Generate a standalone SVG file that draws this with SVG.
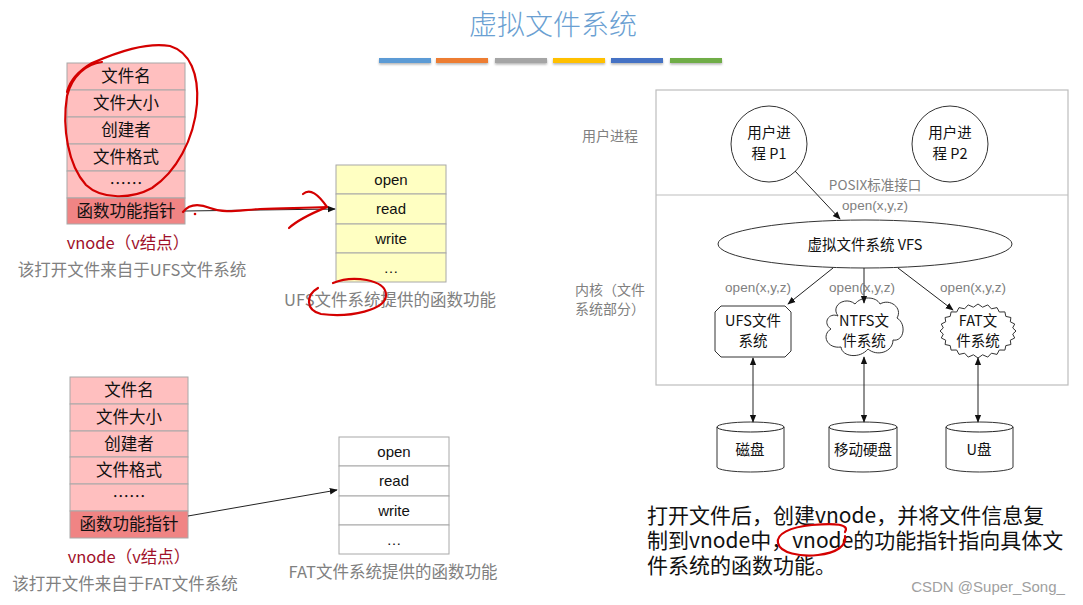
<svg xmlns="http://www.w3.org/2000/svg" width="1083" height="605" viewBox="0 0 1083 605">
<style>
.cjk{font-family:'Noto Sans CJK SC','Noto Sans',sans-serif}
.lat{font-family:'Liberation Sans',Arial,sans-serif}
.cell{fill:#ffbfbf;stroke:#a8a8a8;stroke-width:1}
.cellk{fill:#f08484;stroke:#a8a8a8;stroke-width:1}
.ycell{fill:#ffffc2;stroke:#a8a8a8;stroke-width:1}
.wcell{fill:#ffffff;stroke:#a8a8a8;stroke-width:1}
.tt{font-size:16.5px;fill:#111;text-anchor:middle}
.ft{font-size:15px;fill:#111;text-anchor:middle}
.cap{font-size:16.5px;fill:#808080;text-anchor:middle}
.vn{font-size:16.5px;fill:#a0102a;text-anchor:middle}
.gl{font-size:14px;fill:#808080}
.gm{font-size:13.5px;fill:#808080;text-anchor:middle}
.nt{font-size:14.5px;fill:#111;text-anchor:middle}
.shape{fill:#fff;stroke:#333;stroke-width:1}
.ln{stroke:#222;stroke-width:1;fill:none}
.red{stroke:#d40000;stroke-width:2.2;fill:none;stroke-linecap:round;stroke-linejoin:round}
</style>
<defs>
<marker id="ah" viewBox="0 0 10 10" refX="9" refY="5" markerWidth="8" markerHeight="8" orient="auto-start-reverse" markerUnits="userSpaceOnUse">
<path d="M0,1 L10,5 L0,9 Z" fill="#111"/>
</marker>
<filter id="sh" x="-10%" y="-50%" width="120%" height="250%">
<feDropShadow dx="0" dy="1.5" stdDeviation="1" flood-color="#000" flood-opacity="0.3"/>
</filter>
</defs>
<rect width="1083" height="605" fill="#fff"/>

<g id="title">
<text x="553" y="35" class="cjk" font-size="28" font-weight="300" fill="#6a9fd2" text-anchor="middle">虚拟文件系统</text>
<g filter="url(#sh)">
<rect x="379" y="58" width="52" height="5" fill="#5b9bd5"/>
<rect x="436" y="58" width="52" height="5" fill="#ed7d31"/>
<rect x="495" y="58" width="52" height="5" fill="#a5a5a5"/>
<rect x="553" y="58" width="52" height="5" fill="#ffc000"/>
<rect x="611" y="58" width="52" height="5" fill="#4472c4"/>
<rect x="670" y="58" width="52" height="5" fill="#70ad47"/>
</g>
</g>

<g id="vnode-ufs" class="cjk">
<rect class="cell" x="67" y="63" width="118" height="27"/>
<rect class="cell" x="67" y="90" width="118" height="27"/>
<rect class="cell" x="67" y="117" width="118" height="27"/>
<rect class="cell" x="67" y="144" width="118" height="27"/>
<rect class="cell" x="67" y="171" width="118" height="27"/>
<rect class="cellk" x="67" y="198" width="118" height="26"/>
<text class="tt" x="126" y="82">文件名</text>
<text class="tt" x="126" y="109">文件大小</text>
<text class="tt" x="126" y="136">创建者</text>
<text class="tt" x="126" y="163">文件格式</text>
<text class="tt" x="126" y="190">……</text>
<text class="tt" x="126" y="217">函数功能指针</text>
<text class="vn" x="128" y="249">vnode（v结点）</text>
<text class="cap" x="132" y="276">该打开文件来自于UFS文件系统</text>
</g>

<g id="funcs-ufs" class="lat">
<rect class="ycell" x="336" y="165" width="110" height="29"/>
<rect class="ycell" x="336" y="194" width="110" height="30"/>
<rect class="ycell" x="336" y="224" width="110" height="29"/>
<rect class="ycell" x="336" y="253" width="110" height="29"/>
<text class="ft" x="391" y="185">open</text>
<text class="ft" x="391" y="214">read</text>
<text class="ft" x="391" y="244">write</text>
<text class="ft" x="391" y="273">…</text>
<text class="cap cjk" x="390" y="306">UFS文件系统提供的函数功能</text>
</g>

<g id="vnode-fat" class="cjk">
<rect class="cell" x="70" y="377" width="118" height="27"/>
<rect class="cell" x="70" y="404" width="118" height="27"/>
<rect class="cell" x="70" y="431" width="118" height="26"/>
<rect class="cell" x="70" y="457" width="118" height="27"/>
<rect class="cell" x="70" y="484" width="118" height="27"/>
<rect class="cellk" x="70" y="511" width="118" height="27"/>
<text class="tt" x="129" y="396">文件名</text>
<text class="tt" x="129" y="423">文件大小</text>
<text class="tt" x="129" y="450">创建者</text>
<text class="tt" x="129" y="476">文件格式</text>
<text class="tt" x="129" y="503">……</text>
<text class="tt" x="129" y="530">函数功能指针</text>
<text class="vn" x="129" y="563">vnode（v结点）</text>
<text class="cap" x="125" y="590">该打开文件来自于FAT文件系统</text>
</g>

<g id="funcs-fat" class="lat">
<rect class="wcell" x="339" y="437" width="110" height="29"/>
<rect class="wcell" x="339" y="466" width="110" height="30"/>
<rect class="wcell" x="339" y="496" width="110" height="29"/>
<rect class="wcell" x="339" y="525" width="110" height="29"/>
<text class="ft" x="394" y="457">open</text>
<text class="ft" x="394" y="486">read</text>
<text class="ft" x="394" y="516">write</text>
<text class="ft" x="394" y="545">…</text>
<text class="cap cjk" x="393" y="578">FAT文件系统提供的函数功能</text>
</g>

<g id="vfs-frame">
<rect x="656" y="90" width="412" height="295" fill="none" stroke="#bdbdbd" stroke-width="1.2"/>
<line x1="656" y1="195" x2="1068" y2="195" stroke="#bdbdbd" stroke-width="1.2"/>
<text class="gl cjk" x="610" y="141" text-anchor="middle">用户进程</text>
<text class="gl cjk" x="575" y="295">内核（文件</text>
<text class="gl cjk" x="575" y="314">系统部分）</text>
<text class="gm cjk" x="875" y="190">POSIX标准接口</text>
<text class="gm lat" x="875" y="210">open(x,y,z)</text>
<text class="gm lat" x="758" y="292">open(x,y,z)</text>
<text class="gm lat" x="862" y="292">open(x,y,z)</text>
<text class="gm lat" x="973" y="292">open(x,y,z)</text>
</g>

<g id="p1" class="cjk">
<circle class="shape" cx="769" cy="144" r="38"/>
<text class="nt" x="769" y="138">用户进</text>
<text class="nt" x="769" y="159">程 P1</text>
</g>
<g id="p2" class="cjk">
<circle class="shape" cx="950" cy="144" r="38"/>
<text class="nt" x="950" y="138">用户进</text>
<text class="nt" x="950" y="159">程 P2</text>
</g>

<g id="vfs" class="cjk">
<ellipse class="shape" cx="865" cy="244" rx="147" ry="24"/>
<text class="nt" x="865" y="250">虚拟文件系统 VFS</text>
</g>

<g id="ufs" class="cjk">
<path class="shape" d="M721,306 L785,306 L791,312 L791,351 L785,357 L721,357 L715,351 L715,312 Z"/>
<text class="nt" x="753" y="326">UFS文件</text>
<text class="nt" x="753" y="346">系统</text>
</g>

<g id="ntfs" class="cjk">
<path class="shape" d="M838,316 C830,305 846,296 855,304 C861,296 876,296 880,304 C890,298 903,308 897,318 C907,324 904,342 893,340 C893,352 877,357 868,349 C860,359 842,357 841,347 C827,349 821,335 831,329 C822,323 829,312 838,316 Z"/>
<text class="nt" x="864" y="326">NTFS文</text>
<text class="nt" x="864" y="346">件系统</text>
</g>

<g id="fat" class="cjk">
<polygon class="shape" points="1016,331 1012.7,334.1 1014.7,338 1010.3,340.2 1010.9,344.5 1005.8,345.6 1004.9,350.1 999.3,350 997,354.4 991.4,353.2 987.8,357.1 982.6,354.8 978,358 973.4,354.8 968.2,357.1 964.6,353.2 959,354.4 956.7,350 951.1,350.1 950.2,345.6 945.1,344.5 945.7,340.2 941.3,338 943.3,334.1 940,331 943.3,327.9 941.3,324 945.7,321.8 945.1,317.5 950.2,316.4 951.1,311.9 956.7,312 959,307.6 964.6,308.8 968.2,304.9 973.4,307.2 978,304 982.6,307.2 987.8,304.9 991.4,308.8 997,307.6 999.3,312 1004.9,311.9 1005.8,316.4 1010.9,317.5 1010.3,321.8 1014.7,324 1012.7,327.9"/>
<text class="nt" x="978" y="326">FAT文</text>
<text class="nt" x="978" y="346">件系统</text>
</g>

<g id="disk1" class="cjk">
<path class="shape" d="M717,427 A33.5,5 0 0 1 784,427 L784,467 A33.5,5 0 0 1 717,467 Z"/>
<path class="ln" d="M717,427 A33.5,5 0 0 0 784,427" stroke="#333"/>
<text class="nt" x="750" y="455">磁盘</text>
</g>
<g id="disk2" class="cjk">
<path class="shape" d="M829,427 A34,5 0 0 1 897,427 L897,467 A34,5 0 0 1 829,467 Z"/>
<path class="ln" d="M829,427 A34,5 0 0 0 897,427" stroke="#333"/>
<text class="nt" x="863" y="455">移动硬盘</text>
</g>
<g id="disk3" class="cjk">
<path class="shape" d="M946,427 A33.5,5 0 0 1 1013,427 L1013,467 A33.5,5 0 0 1 946,467 Z"/>
<path class="ln" d="M946,427 A33.5,5 0 0 0 1013,427" stroke="#333"/>
<text class="nt" x="979" y="455">U盘</text>
</g>

<g id="connectors">
<line class="ln" x1="185" y1="211" x2="335" y2="209" marker-end="url(#ah)"/>
<line class="ln" x1="188" y1="516" x2="337" y2="490" marker-end="url(#ah)"/>
<line class="ln" x1="795" y1="171" x2="840" y2="219" marker-end="url(#ah)"/>
<line class="ln" x1="833" y1="268" x2="788" y2="304" marker-end="url(#ah)"/>
<line class="ln" x1="864" y1="268" x2="864" y2="303" marker-end="url(#ah)"/>
<line class="ln" x1="898" y1="268" x2="953" y2="310" marker-end="url(#ah)"/>
<line class="ln" x1="753" y1="358" x2="753" y2="422" marker-start="url(#ah)" marker-end="url(#ah)"/>
<line class="ln" x1="864" y1="357" x2="864" y2="422" marker-start="url(#ah)" marker-end="url(#ah)"/>
<line class="ln" x1="978" y1="358" x2="978" y2="422" marker-start="url(#ah)" marker-end="url(#ah)"/>
</g>

<g id="note" class="cjk" font-size="21" fill="#111">
<text x="647" y="523">打开文件后，创建vnode，并将文件信息复</text>
<text x="647" y="548">制到vnode中，vnode的功能指针指向具体文</text>
<text x="647" y="573">件系统的函数功能。</text>
</g>
<text x="988" y="592" class="lat" font-size="15" fill="#a0a0a0" text-anchor="middle">CSDN @Super_Song_</text>

<g id="annotations">
<path class="red" d="M102,62 C86,64 72,76 67,96 C62,128 68,165 86,185 C102,200 132,199 152,188 C176,172 194,140 197,104 C199,74 190,52 170,46 C146,42 118,52 92,63 C80,70 70,80 67,92"/>
<path class="red" d="M183,212 C190,203 200,204 210,208 C225,214 240,210 260,209 C285,208 305,208 327,207"/>
<path class="red" d="M303,194 C310,188 318,194 327,207 C315,212 300,218 289,228"/>
<circle cx="195" cy="214" r="1.3" fill="#d40000"/>
<path class="red" d="M333,283 C352,275 386,279 386,295 C386,310 350,318 321,314 C305,310 306,295 318,288"/>
<path class="red" d="M845,532 C850,524 835,523 812,525 C790,527 776,534 778,543 C780,553 800,557 818,555 C836,553 847,546 845,536"/>
</g>
</svg>
